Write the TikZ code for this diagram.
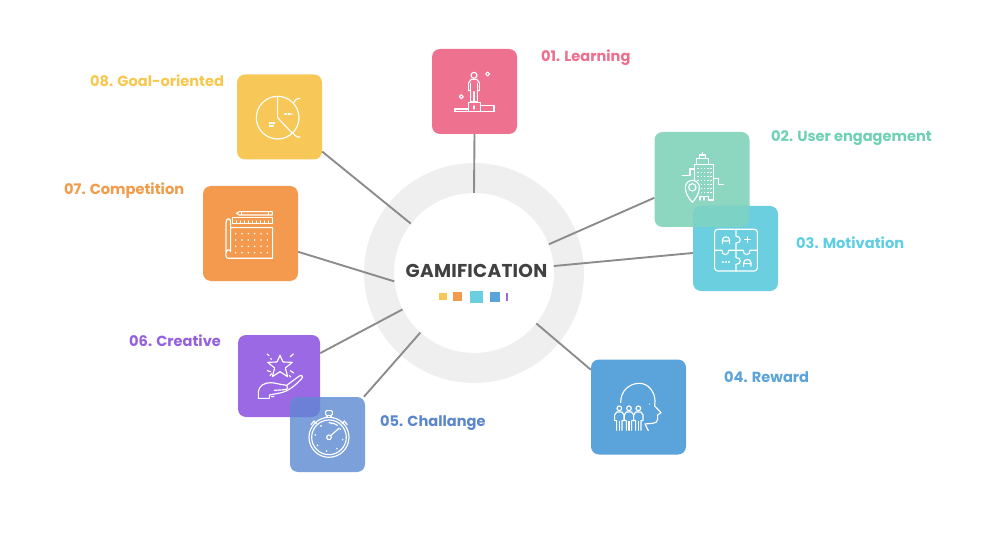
\documentclass[tikz,border=0pt]{standalone}
\usepackage{fontspec}
\setmainfont{Poppins}
\usetikzlibrary{calc}
\definecolor{cpink}{HTML}{EF7190}
\definecolor{cgreen}{HTML}{8DD7C0}
\definecolor{ccyan}{HTML}{6BCFDF}
\definecolor{cblue}{HTML}{5BA3DB}
\definecolor{cperi}{HTML}{7BA0DA}
\definecolor{cpurple}{HTML}{9B69E4}
\definecolor{corange}{HTML}{F39A4E}
\definecolor{cyellow}{HTML}{F7C858}
\definecolor{lgreen}{HTML}{6FD1B3}
\definecolor{lcyan}{HTML}{5ECFE0}
\definecolor{lperi}{HTML}{5B86CE}
\definecolor{lpurple}{HTML}{9560E0}
\definecolor{lorange}{HTML}{F29B4A}
\definecolor{lyellow}{HTML}{F7C850}
\definecolor{lpink}{HTML}{EE6E8E}
\definecolor{ringc}{HTML}{EFEFEF}
\definecolor{linkc}{HTML}{8C8C8C}
\definecolor{titlec}{HTML}{414141}
\definecolor{overa}{HTML}{7DD2C6}
\definecolor{overb}{HTML}{6C80D6}
\tikzset{
  box/.style={rectangle,rounded corners=8pt,inner sep=0pt,minimum size=#1,draw=none,anchor=center},
  link/.style={draw=linkc,line width=1.9pt},
  lab/.style={anchor=west,inner sep=0pt,font=\fontsize{14.6}{17}\selectfont\bfseries},
  ico/.style={draw=white,line width=1.15pt,line join=round,line cap=round},
  icoS/.style={shift={(#1)},x=0.3333pt,y=-0.3333pt},
}
\begin{document}
\begin{tikzpicture}[x=1pt,y=-1pt]
\useasboundingbox (0,0) rectangle (988,540);
% ring
\fill[ringc,even odd rule] (474,273) circle[radius=110] (474,273) circle[radius=80];
\node[circle,minimum size=160pt,inner sep=0pt] (hub) at (474,273) {};
% boxes
\node[box=95pt,fill=cgreen] (n2) at (702,179.5) {};
\node[box=85pt,fill=ccyan] (n3) at (735.5,248.5) {};
\begin{scope}
\clip[rounded corners=8pt] (655,132) rectangle (749,227);
\fill[rounded corners=8pt,overa] (693,206) rectangle (778,291);
\end{scope}
\node[box=85pt,fill=cpink] (n1) at (474.5,91.5) {};
\node[box=95pt,fill=cblue] (n4) at (638.5,407) {};
\node[box=82pt,fill=cpurple] (n6) at (279,376) {};
\node[box=75pt,fill=cperi] (n5) at (327.5,434.5) {};
\begin{scope}
\clip[rounded corners=8pt] (238,335) rectangle (320,417);
\fill[rounded corners=8pt,overb] (290,397) rectangle (365,472);
\end{scope}
\node[box=95pt,fill=corange] (n7) at (250.5,233.5) {};
\node[box=85pt,fill=cyellow] (n8) at (279.5,117) {};
% connectors
\draw[link] (hub.90) -- (n1.south);
\draw[link] (hub.21.4) -- (n2.201.5);
\draw[link] (hub.5) -- (n3.186);
\draw[link] (hub.-39) -- (n4.142);
\draw[link] (hub.228) -- (n5.46.7);
\draw[link] (hub.207) -- (n6.29);
\draw[link] (hub.186) -- (n7.-21);
\draw[link] (hub.142) -- (n8.-39.5);
% centre
\node[inner sep=0pt,font=\fontsize{18.6}{22}\selectfont\bfseries\addfontfeature{LetterSpace=1.2},text=titlec] (title) at (476.5,270.5) {GAMIFICATION};
\fill[cyellow] (439,293) rectangle (446.5,300);
\fill[corange] (453,292) rectangle (462,301);
\fill[ccyan] (470,291) rectangle (482.5,303);
\fill[cblue] (490,292) rectangle (500,302);
\fill[cpurple] (506,293) rectangle (508,300.5);
% labels
\node[lab,text=lpink] (l1) at (541,58) {01. Learning};
\node[lab,text=lgreen] (l2) at (771,138.5) {02. User engagement};
\node[lab,text=lcyan] (l3) at (796,242.5) {03. Motivation};
\node[lab,text=cblue] (l4) at (724,377) {04. Reward};
\node[lab,text=lperi] (l5) at (380,423) {05. Challange};
\node[lab,text=lpurple] (l6) at (129,340.5) {06. Creative};
\node[lab,text=lorange] (l7) at (64,191) {07. Competition};
\node[lab,text=lyellow] (l8) at (90,80.5) {08. Goal-oriented};
% icon 1
\begin{scope}[icoS={420,40},ico]
\draw (162,106) circle[radius=9];
\draw (152,152) -- (146,152) -- (146,128) -- (154,118) -- (170,118) -- (178,128) -- (178,152) -- (172,152) -- (172,185) -- (152,185) -- cycle;
\draw (152,130) -- (152,152) (172,130) -- (172,152) (162,155) -- (162,185);
\draw (145,187) rectangle (181,215);
\draw (105,215) -- (105,207) -- (145,207) (181,197) -- (222,197) -- (222,215) (103,215) -- (224,215);
\draw (162,198) -- (162,207);
\draw (203,96) -- (209,102) -- (203,108) -- (197,102) -- cycle;
\draw (124,164) -- (130,170) -- (124,176) -- (118,170) -- cycle;
\end{scope}
% icon 2
\begin{scope}[icoS={640,125},ico]
\draw (163,165) -- (163,118) -- (220,118) -- (220,225) -- (205,225);
\draw (170,118) -- (170,100) -- (205,100) -- (205,118) (178,100) -- (178,90) -- (197,90) -- (197,100) (187,90) -- (187,83);
\draw (127,152) -- (150,152) -- (150,132) -- (163,132);
\draw (220,160) -- (236,160) -- (236,178) -- (250,178);
\draw (180,225) -- (180,215) -- (205,215) -- (205,225) (192,215) -- (192,225);
\foreach \xx in {172,182,192,202,211} \foreach \yy in {128,140,152,164,176,188,200}
  {\fill[white,draw=none] (\xx,\yy) rectangle +(4,4);}
\filldraw[draw=white,fill=cgreen] (157,232) .. controls (145,218) and (136,205) .. (136,187) arc[start angle=180,end angle=360,radius=21] .. controls (178,205) and (169,218) .. (157,232) -- cycle;
\draw (157,187) circle[radius=11];
\end{scope}
% icon 3
\begin{scope}[icoS={640,125},ico]
\draw[rounded corners=3pt] (224,313) rectangle (352,438);
\draw (288,313) -- (288,334) .. controls (305,332) and (305,356) .. (288,354) -- (288,376);
\draw (224,376) -- (246,376) .. controls (244,393) and (268,393) .. (266,376) -- (310,376) .. controls (308,393) and (332,393) .. (330,376) -- (352,376);
\draw (288,376) -- (288,398) .. controls (305,396) and (305,420) .. (288,418) -- (288,438);
\draw (247,356) -- (247,346) .. controls (247,332) and (269,332) .. (269,346) -- (269,356) (247,348) -- (269,348);
\draw (314,344) -- (330,344) (322,336) -- (322,352);
\draw (248,411) -- (250,411) (257,411) -- (259,411) (266,411) -- (268,411);
\draw (311,424) -- (311,414) .. controls (311,400) and (333,400) .. (333,414) -- (333,424) (311,416) -- (333,416);
\end{scope}
% icon 4
\begin{scope}[icoS={580,350},ico]
\draw (122,158) .. controls (122,120) and (150,100) .. (178,100) .. controls (205,100) and (224,125) .. (225,152) -- (224,168) -- (243,188) -- (233,195) -- (233,208) .. controls (233,216) and (226,220) .. (218,220) -- (195,222) -- (205,242);
\fill[white,draw=none] (209,162) circle[radius=2];
\foreach \px in {118,147,175}{
  \draw (\px,175) circle[radius=7];
  \draw (\px-8,241) -- (\px-8,212) -- (\px-14,212) -- (\px-14,195) -- (\px-8,186) -- (\px+8,186) -- (\px+14,195) -- (\px+14,212) -- (\px+8,212) -- (\px+8,241);
  \draw (\px,241) -- (\px,214);
}
\end{scope}
% icon 5
\begin{scope}[icoS={230,330},ico]
\draw (297,322) circle[radius=60];
\draw (297,322) circle[radius=52];
\draw (291,262) -- (291,256) (303,262) -- (303,256);
\draw[rounded corners=1pt] (287,242) rectangle (307,256);
\draw (243,284) -- (252,273) -- (259,281) (352,284) -- (343,273) -- (336,281);
\draw (297,322) circle[radius=7];
\draw (302,317) -- (328,294);
\draw (297,278) arc[start angle=-90,end angle=-55,radius=44];
\foreach \ang in {0,45,...,315}{\fill[white,draw=none] ($(297,322)+(\ang+10:42)$) circle[radius=2.8];}
\end{scope}
% icon 6
\begin{scope}[icoS={230,330},ico]
\draw (150,76) -- (159,96) -- (187,97) -- (166,114) -- (173,140) -- (150,125) -- (127,140) -- (134,114) -- (113,97) -- (141,96) -- cycle;
\draw (111,72) -- (117,77) (122,85) -- (124,88) (190,72) -- (181,80) (112,122) -- (122,125) (120,137) -- (125,131) (181,122) -- (191,129) (178,136) -- (182,141);
\draw (85,205) -- (85,185) .. controls (87,168) and (102,158) .. (122,158) .. controls (135,158) and (150,164) .. (165,165) .. controls (175,166) and (175,179) .. (165,179) -- (133,181);
\draw (170,166) -- (208,138) .. controls (216,133) and (221,141) .. (214,147) .. controls (195,167) and (175,184) .. (150,189) -- (118,195) -- (118,205) -- (85,205) (124,200) -- (132,200);
\end{scope}
% icon 7
\begin{scope}[icoS={195,180},ico]
\draw (133,95) -- (232,95) -- (232,105) -- (133,105) -- (124,100) -- cycle (220,95) -- (220,105) (140,95) -- (140,105);
\draw (113,113) rectangle (232,130);
\foreach \tx in {125,137,...,221}{\draw[line width=0.6pt] (\tx,122) -- (\tx,130);}
\draw (107,143) -- (233,143) -- (233,235) -- (100,235) .. controls (92,235) and (92,225) .. (93,215) -- (93,128) .. controls (94,112) and (107,112) .. (107,128) -- (107,215) .. controls (105,205) and (93,210) .. (93,220);
\foreach \xx in {122,141,...,217} \foreach \yy in {161,180,199,218}
  {\fill[white,draw=none] (\xx,\yy) circle[radius=2.6];}
\end{scope}
% icon 8
\begin{scope}[icoS={230,70},ico]
\draw (143,143) circle[radius=64];
\draw (143,79) -- (143,143) -- (187,190);
\draw (210,86) -- (203,86) .. controls (197,87) and (194,92) .. (192,98);
\draw (210,201) -- (203,201) .. controls (197,200) and (194,195) .. (190,190);
\draw[dash pattern=on 2pt off 1.6pt] (164,132) -- (186,132);
\draw (118,159) -- (134,159) (118,168) -- (130,168);
\end{scope}
\end{tikzpicture}
\end{document}
